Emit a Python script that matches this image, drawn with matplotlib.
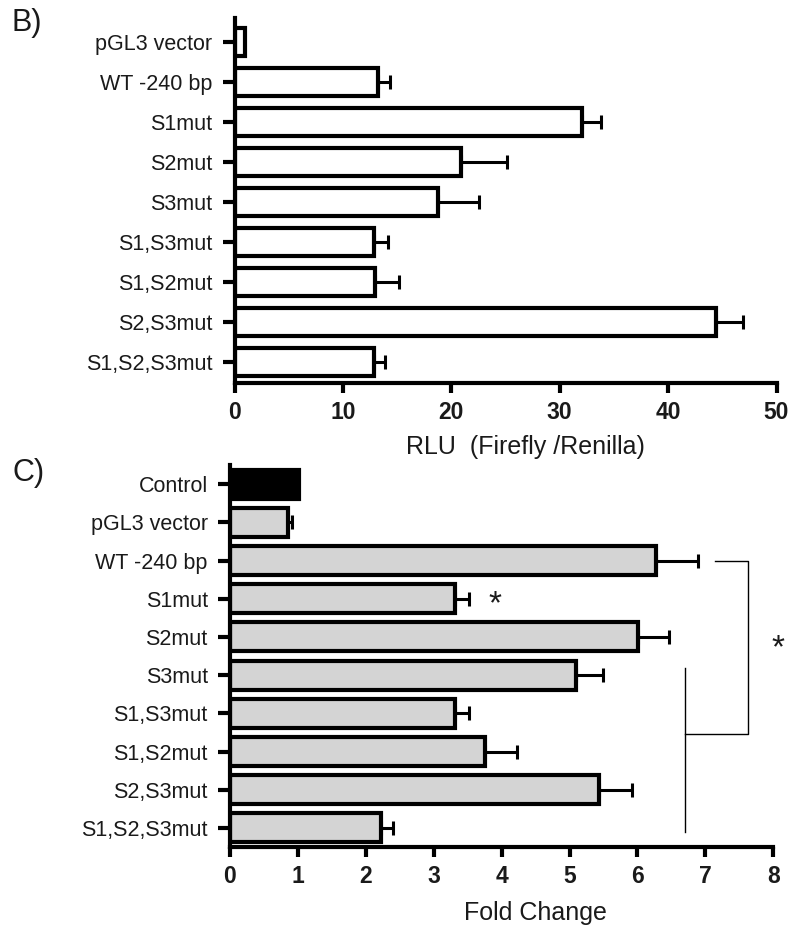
import matplotlib
matplotlib.use("Agg")
import matplotlib.pyplot as plt
import numpy as np

plt.rcParams['font.family'] = ['Liberation Sans', 'DejaVu Sans']

# ---- Panel B data ----
b_labels = ['pGL3 vector', 'WT -240 bp', 'S1mut', 'S2mut', 'S3mut',
            'S1,S3mut', 'S1,S2mut', 'S2,S3mut', 'S1,S2,S3mut']
b_values = [1.0, 13.2, 32.1, 20.9, 18.8, 12.9, 13.0, 44.4, 12.9]
b_err = [0.0, 1.1, 1.7, 4.2, 3.8, 1.3, 2.2, 2.5, 1.0]
b_xticks = [0, 10, 20, 30, 40, 50]

# ---- Panel C data ----
c_labels = ['Control', 'pGL3 vector', 'WT -240 bp', 'S1mut', 'S2mut', 'S3mut',
            'S1,S3mut', 'S1,S2mut', 'S2,S3mut', 'S1,S2,S3mut']
c_values = [1.02, 0.85, 6.28, 3.31, 6.01, 5.10, 3.31, 3.76, 5.44, 2.23]
c_err = [0.0, 0.07, 0.61, 0.21, 0.45, 0.39, 0.21, 0.46, 0.48, 0.17]
c_colors = ['black'] + ['#d4d4d4'] * 9
c_xticks = [0, 1, 2, 3, 4, 5, 6, 7, 8]

W, H = 800, 934
fig = plt.figure(figsize=(W / 100, H / 100), dpi=100)

def ax_rect(left, right, top, bottom):
    return [left / W, 1 - bottom / H, (right - left) / W, (bottom - top) / H]

TXT = '#1a1a1a'

def style(ax, labels, xticks, xmax):
    for s in ['top', 'right']:
        ax.spines[s].set_visible(False)
    for s in ['left', 'bottom']:
        ax.spines[s].set_linewidth(3.0)
    ax.set_yticks(np.arange(len(labels)))
    ax.set_yticklabels(labels, fontsize=15.5, color=TXT)
    ax.set_xticks(xticks)
    ax.set_xticklabels([str(t) for t in xticks], fontsize=16.5, fontweight='bold', color=TXT)
    ax.tick_params(axis='y', length=9, width=3.0, pad=7, direction='out')
    ax.tick_params(axis='x', length=7, width=3.0, pad=6, direction='out')
    ax.set_xlim(0, xmax)

# Panel B
axb = fig.add_axes(ax_rect(234.5, 776.5, 18, 383))
yb = np.arange(len(b_labels))
axb.barh(yb, b_values, height=0.72, color='white', edgecolor='black', linewidth=3.0, zorder=2)
mask = np.array(b_err) > 0
axb.errorbar(np.array(b_values)[mask], yb[mask], xerr=[np.zeros(mask.sum()), np.array(b_err)[mask]],
             fmt='none', ecolor='black', elinewidth=2.2, capsize=4.8, capthick=2.2, zorder=1)
style(axb, b_labels, b_xticks, 50)
axb.set_ylim(8.525, -0.6)
axb.set_xlabel('RLU  (Firefly /Renilla)', fontsize=18, color=TXT)
axb.xaxis.set_label_coords(0.537, -0.142)

# Panel C
axc = fig.add_axes(ax_rect(230, 773.3, 465, 846.7))
yc = np.arange(len(c_labels))
axc.barh(yc, c_values, height=0.76, color=c_colors, edgecolor='black', linewidth=3.0, zorder=2)
maskc = np.array(c_err) > 0
axc.errorbar(np.array(c_values)[maskc], yc[maskc], xerr=[np.zeros(maskc.sum()), np.array(c_err)[maskc]],
             fmt='none', ecolor='black', elinewidth=2.2, capsize=4.8, capthick=2.2, zorder=1)
style(axc, c_labels, c_xticks, 8)
axc.set_ylim(9.49, -0.5)
axc.set_xlabel('Fold Change', fontsize=18, color=TXT)
axc.xaxis.set_label_coords(0.562, -0.143)

# significance annotations in C
axc.text(3.9, 3.15, '*', fontsize=24, ha='center', va='center', color=TXT)
axc.plot([7.14, 7.63, 7.63, 6.7], [2.0, 2.0, 6.54, 6.54], color='black', lw=1.0, clip_on=False)
axc.plot([6.7, 6.7], [4.82, 9.1], color='black', lw=1.0, clip_on=False)
axc.text(8.07, 4.3, '*', fontsize=24, ha='center', va='center', color=TXT, clip_on=False)

# panel letters
fig.text(12 / W, 1 - 8 / H, 'B)', fontsize=22, va='top', ha='left', color=TXT)
fig.text(12 / W, 1 - 458 / H, 'C)', fontsize=22, va='top', ha='left', color=TXT)

fig.savefig('out.png', dpi=100)
